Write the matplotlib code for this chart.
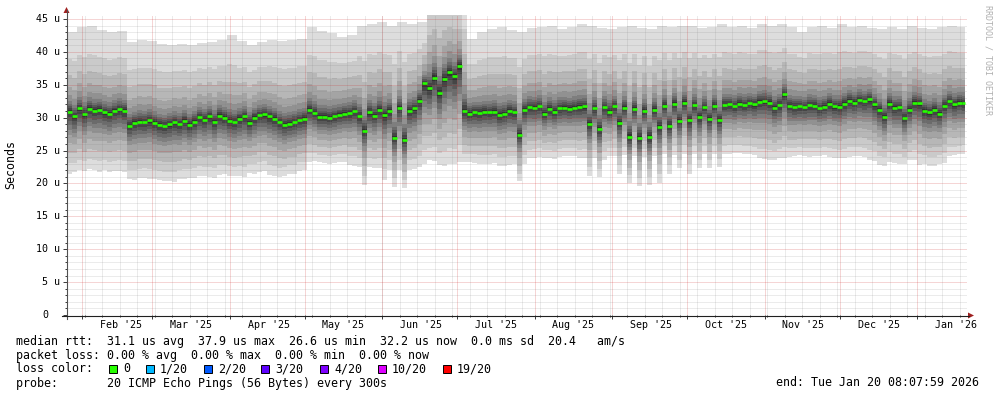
import datetime as dt
import numpy as np
import matplotlib
matplotlib.use("Agg")
import matplotlib.pyplot as plt
import matplotlib.dates as mdates
from matplotlib.patches import Polygon, Rectangle
from matplotlib.lines import Line2D

# ---------------------------------------------------------------- data
START = dt.datetime(2025, 1, 26)
END_AXIS = dt.datetime(2026, 1, 21)
END_DATA = dt.datetime(2026, 1, 20, 8, 7, 59)
BIN_DAYS = 2  # median / low-envelope resolution

# median RTT (microseconds), one value per 2-day bin
MED = [
    30.9, 30.2, 31.4, 30.5, 31.3, 31.0, 31.2, 30.8, 30.6, 31.0, 31.3, 31.0,
    28.8, 29.2, 29.4, 29.3, 29.6, 29.2, 28.9, 28.7, 29.0, 29.3, 29.0, 29.5,
    28.9, 29.4, 30.1, 29.7, 30.2, 29.4, 30.3, 30.0, 29.5, 29.3, 29.8, 30.2,
    29.2, 30.0, 30.4, 30.5, 30.2, 29.8, 29.3, 28.9, 29.1, 29.3, 29.6, 29.8,
    31.2, 30.7, 30.1, 30.1, 30.0, 30.2, 30.4, 30.6, 30.7, 31.0, 30.2, 28.0,
    30.8, 30.3, 31.2, 30.4, 31.0, 26.9, 31.5, 26.6, 31.0, 31.4, 32.6, 35.2,
    34.5, 36.1, 33.8, 35.9, 36.9, 36.3, 37.9, 31.0, 30.6, 30.8, 30.7, 30.9,
    30.8, 30.9, 30.4, 30.6, 31.0, 30.8, 27.4, 31.2, 31.6, 31.5, 31.7, 30.6,
    31.3, 30.9, 31.4, 31.5, 31.3, 31.5, 31.6, 31.7, 29.0, 31.4, 28.2, 31.6,
    30.9, 31.7, 29.2, 31.5, 27.1, 31.3, 26.9, 31.0, 27.0, 31.2, 28.6, 31.8,
    28.8, 32.1, 29.5, 32.3, 29.6, 31.9, 30.1, 31.6, 29.8, 31.8, 29.6, 31.9,
    32.0, 31.7, 32.1, 31.9, 32.2, 32.0, 32.4, 32.5, 32.3, 31.5, 31.9, 33.6,
    31.8, 31.6, 31.7, 31.6, 31.9, 31.8, 31.4, 31.6, 32.1, 31.7, 31.6, 32.1,
    32.6, 32.3, 32.7, 32.5, 32.8, 32.0, 31.2, 30.1, 32.1, 31.5, 31.6, 29.9,
    31.2, 32.3, 32.2, 31.0, 30.8, 31.2, 30.6, 31.8, 32.5, 32.0, 32.3, 32.2,
]

# lowest ping per 2-day bin
LO = [
    21.5, 21.7, 22.0, 21.9, 22.2, 22.0, 21.8, 22.0, 21.7, 21.9, 21.9, 21.8,
    20.6, 20.5, 20.8, 20.9, 20.7, 20.6, 20.5, 20.4, 20.3, 20.2, 20.6, 20.7,
    20.8, 20.9, 21.2, 21.1, 21.0, 20.9, 21.3, 21.4, 21.2, 21.1, 21.1, 21.0,
    21.6, 21.5, 21.8, 21.9, 21.3, 21.2, 21.0, 21.1, 21.5, 21.4, 21.9, 22.0,
    23.3, 23.4, 23.2, 23.1, 23.0, 23.1, 23.2, 23.3, 22.8, 22.7, 22.5, 19.8,
    22.5, 22.4, 22.3, 20.5, 22.0, 19.5, 22.0, 19.3, 22.0, 22.2, 22.5, 23.0,
    23.5, 23.4, 22.8, 22.6, 23.0, 22.9, 23.3, 23.2, 23.2, 23.1, 23.0, 22.9,
    23.0, 23.1, 22.7, 22.6, 22.8, 22.9, 20.3, 23.0, 23.8, 23.9, 24.0, 23.9,
    23.8, 23.7, 24.0, 24.1, 24.2, 24.1, 23.8, 23.9, 21.2, 23.8, 21.0, 23.6,
    24.2, 24.1, 21.5, 24.3, 20.0, 24.2, 19.6, 24.0, 19.8, 24.2, 20.0, 24.4,
    21.5, 24.3, 22.3, 24.5, 21.5, 24.4, 22.3, 24.5, 22.3, 24.4, 22.5, 24.5,
    24.5, 24.6, 24.6, 24.5, 24.4, 24.3, 23.8, 23.7, 23.6, 23.5, 23.8, 23.9,
    24.0, 24.1, 24.3, 24.2, 24.0, 24.1, 24.2, 24.3, 24.0, 23.9, 23.8, 23.9,
    24.0, 24.1, 24.1, 24.0, 23.5, 23.4, 22.8, 22.7, 23.2, 23.1, 23.0, 22.9,
    23.5, 23.6, 22.8, 22.9, 22.7, 22.6, 23.0, 23.1, 24.2, 24.3, 24.4, 24.5,
]

# highest ping per 4-day bin
HI = [
    43.0, 43.8, 44.0, 43.3, 43.0, 43.2, 41.5, 41.8, 41.6, 41.2, 41.0, 41.2,
    41.0, 41.3, 41.5, 41.8, 42.5, 41.6, 41.0, 41.5, 41.8, 41.7, 41.8, 42.0,
    43.8, 43.2, 42.8, 42.3, 42.5, 44.0, 44.3, 44.5, 44.0, 44.5, 44.2, 44.5,
    52.0, 52.0, 52.0, 50.0, 42.0, 43.0, 43.5, 43.8, 43.3, 43.0, 43.6, 43.8,
    44.0, 43.5, 43.8, 44.2, 44.0, 43.6, 43.5, 43.8, 44.0, 43.7, 43.5, 44.0,
    43.8, 43.9, 44.0, 43.6, 43.8, 44.2, 43.8, 44.0, 43.6, 44.3, 44.0, 44.2,
    43.8, 43.0, 43.8, 44.0, 43.7, 44.2, 43.8, 44.0, 43.6, 43.4, 43.8, 43.5,
    44.0, 43.6, 43.5, 43.8, 44.0, 43.8,
]

# typical position of the sorted pings between median and extremes
UP_FRAC = [0.02, 0.045, 0.07, 0.10, 0.14, 0.21, 0.31, 0.46, 0.66, 1.0]   # p11..p20
DN_FRAC = [0.04, 0.09, 0.15, 0.22, 0.29, 0.37, 0.50, 0.66, 0.83, 1.0]    # p10..p1
SMOKE_GRAY = [221, 202, 183, 164, 145, 126, 107, 88, 69, 50]            # outer -> inner

MONTH_STARTS = [dt.datetime(2025, m, 1) for m in range(2, 13)] + [dt.datetime(2026, 1, 1)]
MONTH_LABELS = ["Feb '25", "Mar '25", "Apr '25", "May '25", "Jun '25", "Jul '25",
                "Aug '25", "Sep '25", "Oct '25", "Nov '25", "Dec '25", "Jan '26"]
Y_TICKS = [0, 5, 10, 15, 20, 25, 30, 35, 40, 45]

LOSS_LABELS = ["0", "1/20", "2/20", "3/20", "4/20", "10/20", "19/20"]
LOSS_COLORS = ["#26ff00", "#00b8ff", "#0059ff", "#5e00ff", "#7e00ff", "#dd00ff", "#ff0000"]

LEGEND_LINES = [
    "median rtt:  31.1 us avg  37.9 us max  26.6 us min  32.2 us now  0.0 ms sd  20.4   am/s",
    "packet loss: 0.00 % avg  0.00 % max  0.00 % min  0.00 % now",
    "loss color:",
    "probe:       20 ICMP Echo Pings (56 Bytes) every 300s",
]
END_TEXT = "end: Tue Jan 20 08:07:59 2026"

# ---------------------------------------------------------------- figure
W, H = 997, 397
MONO = "DejaVu Sans Mono"
fig = plt.figure(figsize=(W / 100, H / 100), dpi=100)
fig.patch.set_facecolor("white")


def fx(x):
    return x / W


def fy(y):
    return 1 - y / H


ax = fig.add_axes([fx(67), fy(315), 900 / W, 300 / H])
ax.set_facecolor("white")
ax.set_xlim(mdates.date2num(START), mdates.date2num(END_AXIS))
ax.set_ylim(0, 45.6)
for s in ax.spines.values():
    s.set_visible(False)

n = len(MED)
edges = [START + dt.timedelta(days=BIN_DAYS * i) for i in range(n + 1)]
edges[-1] = min(edges[-1], END_DATA)
xe = mdates.date2num(edges)

med = np.array(MED)
lo = np.array(LO)
hi = np.repeat(np.array(HI), 2)[:n]

up = [med + f * (hi - med) for f in UP_FRAC]
dn = [med - f * (med - lo) for f in DN_FRAC]


def ext(a):
    return np.append(a, a[-1])


for k in range(10):  # outer layer first
    i_up = 9 - k
    g = SMOKE_GRAY[k] / 255
    ax.fill_between(xe, ext(dn[i_up]), ext(up[i_up]), step="post",
                    color=(g, g, g), linewidth=0, zorder=2)

# grid
minor_c = (0.50, 0.50, 0.50, 0.30)
major_c = (0.80, 0.15, 0.15, 0.38)
gkw = dict(lw=0.72, ls=(0, (1, 1)), zorder=3)
for v in range(1, 46):
    if v % 5:
        ax.axhline(v, color=minor_c, **gkw)
sundays = []
d = START + dt.timedelta(days=7)
while d < END_AXIS:
    sundays.append(d)
    d += dt.timedelta(days=7)
for d in sundays:
    ax.axvline(mdates.date2num(d), color=minor_c, **gkw)
for v in range(5, 46, 5):
    ax.axhline(v, color=major_c, **gkw)
for m in MONTH_STARTS:
    ax.axvline(mdates.date2num(m), color=major_c, **gkw)

# median
ax.hlines(med, xe[:-1], xe[1:], colors=LOSS_COLORS[0], linewidth=1.9, zorder=5)

# ticks
ax.set_yticks(Y_TICKS)
ax.set_yticks(range(0, 46), minor=True)
ax.set_xticks(mdates.date2num(MONTH_STARTS))
ax.set_xticks(mdates.date2num(sundays), minor=True)
ax.tick_params(which="both", direction="out", color="#404040", width=0.72,
               labelbottom=False, labelleft=False)
ax.tick_params(which="major", length=2.9)
ax.tick_params(which="minor", length=1.4)

# tick labels
for v in Y_TICKS:
    ypx = 315 - v * 300 / 45.6
    if v == 0:
        fig.text(fx(48), fy(ypx), "0", ha="right", va="center", fontsize=7.2, family=MONO)
    else:
        fig.text(fx(60), fy(ypx), f"{v} u", ha="right", va="center", fontsize=7.2, family=MONO)
for m, lab in zip(MONTH_STARTS, MONTH_LABELS):
    ax.text(mdates.date2num(m + dt.timedelta(days=15.6)), -10 / 300, lab,
            transform=ax.get_xaxis_transform(), ha="center", va="center",
            fontsize=7.2, family=MONO)

# axis lines + arrows
fig.add_artist(Line2D([fx(66.5), fx(66.5)], [fy(319), fy(10)], color="#505050", lw=0.8))
fig.add_artist(Line2D([fx(62), fx(969)], [fy(315.5), fy(315.5)], color="#202020", lw=0.8))
fig.add_artist(Polygon([(fx(63.5), fy(13)), (fx(69.5), fy(13)), (fx(66.5), fy(7))],
                       closed=True, transform=fig.transFigure, color="#a02020", lw=0))
fig.add_artist(Polygon([(fx(968), fy(312.5)), (fx(968), fy(318.5)), (fx(974), fy(315.5))],
                       closed=True, transform=fig.transFigure, color="#a02020", lw=0))

# labels
fig.text(fx(10.5), fy(164), "Seconds", rotation=90, ha="center", va="center",
         fontsize=8.4, family=MONO)
fig.text(fx(987.5), fy(60), "RRDTOOL / TOBI OETIKER", rotation=270, ha="center",
         va="center", fontsize=6, family=MONO, color="#b0b0b0")

# legend
for txt, ypx in zip(LEGEND_LINES, [341, 355, 369, 383]):
    fig.text(fx(16), fy(ypx), txt, ha="left", va="center", fontsize=8.4, family=MONO)
fig.text(fx(978.5), fy(383), END_TEXT, ha="right", va="center", fontsize=8.4, family=MONO)

sq_x = [108.5, 146, 203.5, 261, 320, 378, 443]
lab_x = [123, 160, 218, 275, 334, 392, 457]
for sx, lx, lab, col in zip(sq_x, lab_x, LOSS_LABELS, LOSS_COLORS):
    fig.add_artist(Rectangle((fx(sx), fy(373)), 8 / W, 8 / H, transform=fig.transFigure,
                             facecolor=col, edgecolor="black", lw=0.7))
    fig.text(fx(lx), fy(369), lab, ha="left", va="center", fontsize=8.4, family=MONO)

fig.savefig("out.png", dpi=100, facecolor="white")
